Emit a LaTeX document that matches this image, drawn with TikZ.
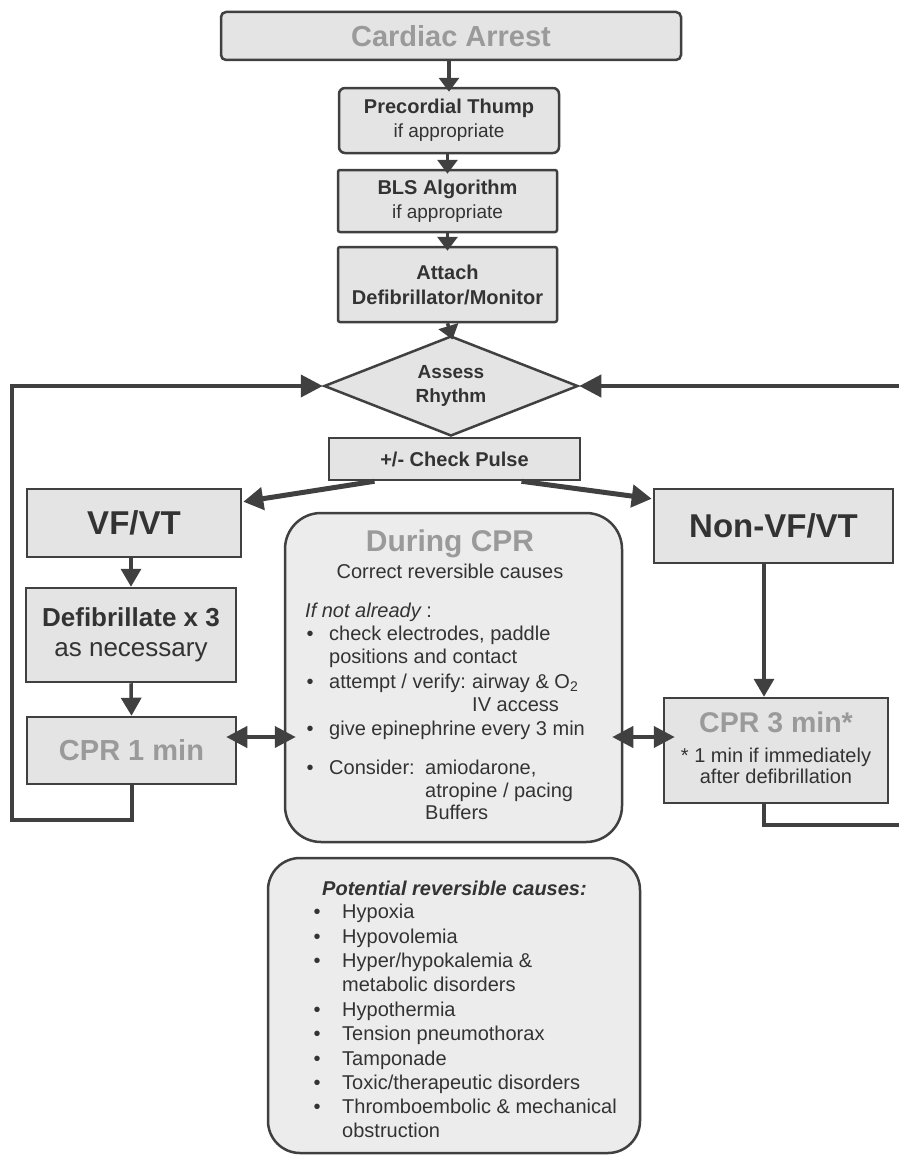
\documentclass[tikz,border=0pt]{standalone}
\usepackage{fontspec}
\setmainfont{Liberation Sans}
\usetikzlibrary{arrows.meta,shapes.geometric,calc}

\definecolor{edge}{HTML}{404040}
\definecolor{boxfill}{HTML}{E4E4E4}
\definecolor{softfill}{HTML}{ECECEC}
\definecolor{ink}{HTML}{333333}
\definecolor{greytitle}{HTML}{9A9A9A}

\tikzset{
  box/.style={draw=edge, fill=boxfill, line width=2.5pt, inner sep=0pt,
              align=center, text=ink},
  softbox/.style={draw=edge, fill=softfill, line width=2.5pt, inner sep=0pt},
  shortarr/.style={draw=edge, line width=3.5pt, shorten >=-5pt,
                   -{Triangle[length=14pt,width=20pt]}},
  arr/.style={draw=edge, line width=3.5pt, -{Triangle[length=18pt,width=20pt]}},
  thickarr/.style={draw=edge, line width=5pt, -{Triangle[length=20pt,width=22pt]}},
  dbl/.style={draw=edge, line width=4pt, shorten <=-11pt, shorten >=-12pt,
              {Triangle[length=21pt,width=21pt]}-{Triangle[length=21pt,width=21pt]}},
  loopline/.style={draw=edge, line width=4pt, -{Triangle[length=22pt,width=22pt]}},
  txt/.style={inner sep=0pt, anchor=base west, text=ink,
              font=\fontsize{20}{24}\selectfont},
  bul/.style={inner sep=0pt, anchor=base, text=ink,
              font=\fontsize{20}{24}\selectfont},
}

\begin{document}
\begin{tikzpicture}[x=1pt,y=-1pt]
\useasboundingbox (0,0) rectangle (898,1156);
\fill[white] (0,0) rectangle (898,1156);

% ---- top chain ----
\node[box, rounded corners=5pt, minimum width=460pt, minimum height=48pt,
      font=\bfseries\fontsize{29}{34}\selectfont, text=greytitle] (ca) at (451,36) {Cardiac Arrest};
\node[box, rounded corners=6pt, minimum width=220pt, minimum height=65pt,
      font=\fontsize{20}{24}\selectfont] (pt) at (449,120.5)
      {\textbf{Precordial Thump}\\ \fontsize{19}{24}\selectfont if appropriate};
\node[box, rounded corners=2pt, minimum width=219pt, minimum height=62pt,
      font=\fontsize{20}{24}\selectfont] (bls) at (447.5,201)
      {\textbf{BLS Algorithm}\\ \fontsize{19}{24}\selectfont if appropriate};
\node[box, rounded corners=2pt, minimum width=219pt, minimum height=75pt,
      font=\bfseries\fontsize{20}{25}\selectfont] (att) at (447.5,284.5)
      {Attach\\Defibrillator/Monitor};
\node[diamond, shape aspect=2.54, draw=edge, fill=boxfill, line width=2.5pt, inner sep=0pt,
      minimum width=254pt, minimum height=100pt, align=center, text=ink,
      font=\bfseries\fontsize{19}{24}\selectfont] (dia) at (451,386) {Assess\\Rhythm};
\node[box, minimum width=251pt, minimum height=42pt,
      font=\bfseries\fontsize{20}{24}\selectfont] (cp) at (454.5,459) {+/- Check Pulse};

\draw[shortarr] (ca.south -| pt.center) -- (pt.north);
\draw[shortarr] (pt.south -| bls.center) -- (bls.north);
\draw[shortarr] (bls.south) -- (att.north);
\draw[shortarr] (att.south) -- (dia.north);

% ---- the two branches ----
\node[box, minimum width=214pt, minimum height=68pt,
      font=\bfseries\fontsize{33}{38}\selectfont] (vf) at (134,523) {VF/VT};
\node[box, minimum width=210pt, minimum height=94pt,
      font=\fontsize{26}{30}\selectfont] (def) at (131,635)
      {\textbf{Defibrillate x 3}\\as necessary};
\node[box, minimum width=209pt, minimum height=67pt,
      font=\bfseries\fontsize{29}{34}\selectfont, text=greytitle] (c1) at (131.5,750.5) {CPR 1 min};

\node[box, minimum width=239pt, minimum height=74pt,
      font=\bfseries\fontsize{33}{38}\selectfont] (nvf) at (773.5,526) {Non-VF/VT};
\node[box, minimum width=224pt, minimum height=105pt] (c3) at (776,750.5) {};
\node[inner sep=0pt, anchor=base, text=greytitle,
      font=\bfseries\fontsize{28.5}{34}\selectfont] (c3t) at (776,732) {CPR 3 min*};
\node[txt, anchor=base] (c3a) at (776,762) {* 1 min if immediately};
\node[txt, anchor=base] (c3b) at (776,783) {after defibrillation};

\draw[thickarr] ($(cp.south)+(-80,0)$) -- ($(vf.north east)+(1,14)$);
\draw[thickarr] ($(cp.south)+(67,0)$) -- ($(nvf.north west)+(-1,11)$);
\draw[arr] (vf.south -| def.center) -- (def.north);
\draw[arr] (def.south) -- (c1.north);

\coordinate (rx) at (764,0);
\draw[arr] (nvf.south -| rx) -- (c3.north -| rx);

% ---- During CPR panel ----
\node[softbox, rounded corners=36pt, minimum width=337pt, minimum height=329pt] (dur) at (453.5,677.5) {};
\node[inner sep=0pt, anchor=base, text=greytitle,
      font=\bfseries\fontsize{30}{36}\selectfont] (d1) at (450,551) {During CPR};
\node[txt, anchor=base] (d2) at (450,578) {Correct reversible causes};
\node[txt] (d0) at (305,617) {\itshape If not already\upshape\ :};
\node[bul] (db1) at (310,640) {\textbullet};
\node[txt] (d3) at (329,640) {check electrodes, paddle};
\node[txt] (d4) at (329,663) {positions and contact};
\node[bul] (db2) at (310,688) {\textbullet};
\node[txt] (d5) at (329,688) {attempt / verify:};
\node[txt] (d6) at (472,688) {airway \& O\textsubscript{2}};
\node[txt] (d7) at (472,711) {IV access};
\node[bul] (db3) at (310,735) {\textbullet};
\node[txt] (d8) at (329,735) {give epinephrine every 3 min};
\node[bul] (db4) at (310,774) {\textbullet};
\node[txt] (d9) at (329,774) {Consider:};
\node[txt] (d10) at (425,774) {amiodarone,};
\node[txt] (d11) at (425,797) {atropine / pacing};
\node[txt] (d12) at (425,819) {Buffers};

\coordinate (mid) at (0,737);
\draw[dbl] (c1.east |- mid) -- (dur.west |- mid);
\draw[dbl] (dur.east |- mid) -- (c3.west |- mid);

% ---- loops back to rhythm assessment ----
\coordinate (lb) at (12,820);
\coordinate (rb) at (905,825);
\draw[loopline] (c1.south) |- (lb) |- (dia.west);
\draw[loopline] (c3.south -| rx) |- (rb) |- (dia.east);

% ---- reversible causes panel ----
\node[softbox, rounded corners=32pt, minimum width=372pt, minimum height=295pt] (pot) at (454,1005.5) {};
\node[txt, font=\bfseries\itshape\fontsize{20}{24}\selectfont] (p0) at (322,895) {Potential reversible causes:};
\node[bul] (pb1) at (317,918) {\textbullet};
\node[txt] (p1) at (342,918) {Hypoxia};
\node[bul] (pb2) at (317,943) {\textbullet};
\node[txt] (p2) at (342,943) {Hypovolemia};
\node[bul] (pb3) at (317,967) {\textbullet};
\node[txt] (p3) at (342,967) {Hyper/hypokalemia \&};
\node[txt] (p4) at (342,991) {metabolic disorders};
\node[bul] (pb5) at (317,1016) {\textbullet};
\node[txt] (p5) at (342,1016) {Hypothermia};
\node[bul] (pb6) at (317,1040) {\textbullet};
\node[txt] (p6) at (342,1040) {Tension pneumothorax};
\node[bul] (pb7) at (317,1065) {\textbullet};
\node[txt] (p7) at (342,1065) {Tamponade};
\node[bul] (pb8) at (317,1089) {\textbullet};
\node[txt] (p8) at (342,1089) {Toxic/therapeutic disorders};
\node[bul] (pb9) at (317,1113) {\textbullet};
\node[txt] (p9) at (342,1113) {Thromboembolic \& mechanical};
\node[txt] (p10) at (342,1137) {obstruction};
\end{tikzpicture}
\end{document}
